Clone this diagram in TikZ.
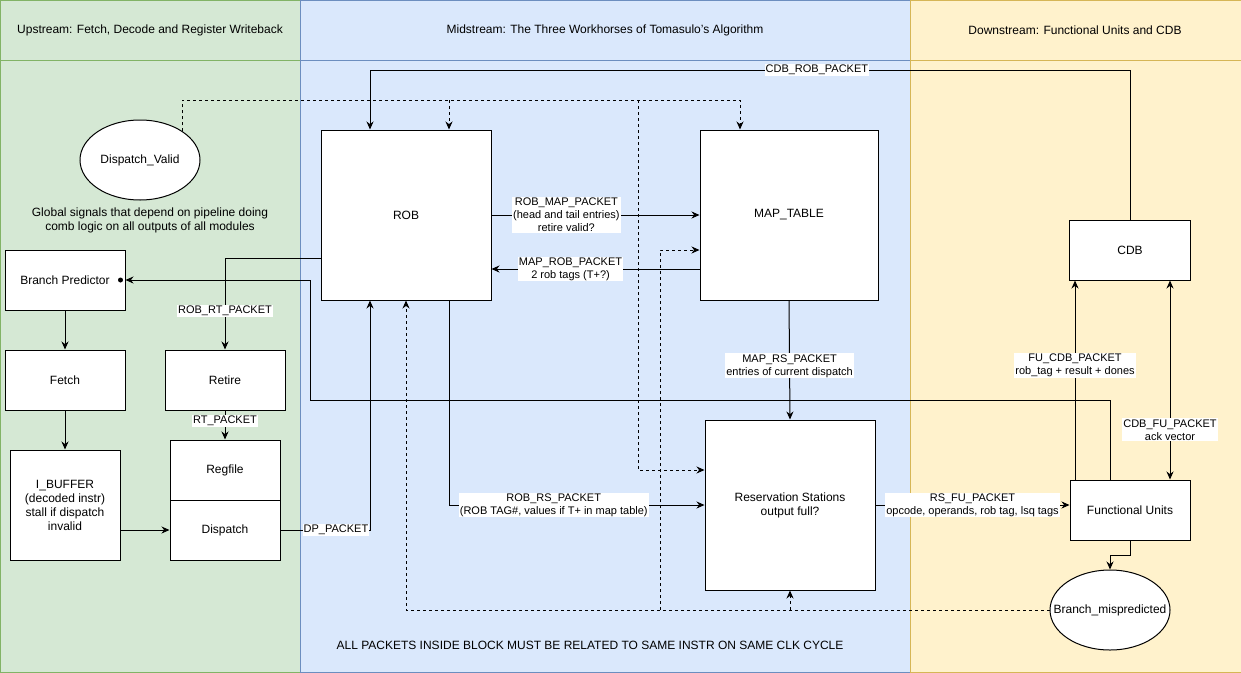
\documentclass[tikz,border=0pt]{standalone}
\usepackage{fontspec}
\setmainfont{Liberation Sans}
\usetikzlibrary{arrows.meta,shapes.geometric}
\definecolor{upfill}{HTML}{D5E8D4}
\definecolor{upline}{HTML}{82B366}
\definecolor{midfill}{HTML}{DAE8FC}
\definecolor{midline}{HTML}{6C8EBF}
\definecolor{downfill}{HTML}{FFF2CC}
\definecolor{downline}{HTML}{D6B656}
\begin{document}
\begin{tikzpicture}[x=1pt,y=-1pt,line width=1pt,>={Stealth[length=8pt,width=7pt]},
		font=\fontsize{12}{14}\selectfont,
		blk/.style={draw,fill=white,align=center,inner sep=2pt},
		oval/.style={draw,fill=white,ellipse,minimum width=120pt,minimum height=80pt,inner sep=0pt},
		lbl/.style={fill=white,align=center,inner sep=1pt,font=\fontsize{11}{13}\selectfont},
		dsh/.style={dashed,dash pattern=on 3pt off 3pt}]
		\useasboundingbox (0,0) rectangle (1241,672);
		% lanes
		\filldraw[fill=upfill,draw=upline] (0,0) rectangle (300,672);
		\draw[upline] (0,60) -- (300,60);
		\filldraw[fill=midfill,draw=midline] (300,0) rectangle (910,672);
		\draw[midline] (300,60) -- (910,60);
		\filldraw[fill=downfill,draw=downline] (910,0) rectangle (1241,672);
		\draw[downline] (910,60) -- (1241,60);
		\node (uphead) at (150,30) {Upstream: Fetch, Decode and Register Writeback};
		\node (midhead) at (605,30) {Midstream: The Three Workhorses of Tomasulo's Algorithm};
		\node (downhead) at (1075,30) {Downstream: Functional Units and CDB};
		% upstream
		\node[oval] (dv) at (140,160) {Dispatch\_Valid};
		\node[align=center] (glob) at (150,220) {Global signals that depend on pipeline doing\\comb logic on all outputs of all modules};
		\node[blk,minimum width=120,minimum height=60] (bp) at (65,280) {Branch Predictor};
		\node[blk,minimum width=120,minimum height=60] (fetch) at (65,380) {Fetch};
		\node[blk,minimum width=110,minimum height=110] (ibuf) at (65,505) {I\_BUFFER\\(decoded instr)\\stall if dispatch\\invalid};
		\node[blk,minimum width=120,minimum height=60] (retire) at (225,380) {Retire};
		\node[blk,minimum width=110,minimum height=60] (regfile) at (225,470) {Regfile};
		\node[blk,minimum width=110,minimum height=60] (dispatch) at (225,530) {Dispatch};
		% midstream
		\node[blk,minimum width=170,minimum height=170] (rob) at (406,215) {ROB};
		\node[blk,minimum width=178,minimum height=170] (map) at (789,215) {MAP\_TABLE};
		\node[blk,minimum width=170,minimum height=170] (rs) at (790,505) {Reservation Stations\\output full?};
		\node (note) at (590,645) {ALL PACKETS INSIDE BLOCK MUST BE RELATED TO SAME INSTR ON SAME CLK CYCLE};
		% downstream
		\node[blk,minimum width=121,minimum height=60] (cdb) at (1130,250) {CDB};
		\node[blk,minimum width=120,minimum height=60] (fu) at (1130,510) {Functional Units};
		\node[oval,inner xsep=-30pt] (bm) at (1110,610) {Branch\_mispredicted};
		% upstream connectors
		\draw[->] (bp) -- (fetch);
		\draw[->] (fetch) -- (ibuf);
		\draw[->] (ibuf.east |- dispatch.west) -- (dispatch.west);
		\draw[->] (retire) -- node[lbl,pos=0.35] {RT\_PACKET} (regfile);
		\draw[->] ([yshift=-43pt]rob.west) -| node[lbl,pos=0.79] {ROB\_RT\_PACKET} (retire.north);
		\draw[->] (dispatch.east) -| node[lbl,pos=0.31] {DP\_PACKET} ([xshift=-36pt]rob.south);
		\draw[->] ([xshift=-20pt]fu.north) |- (310,400) |- (bp.east);
		\fill ([xshift=-5pt]bp.east) circle (2.5pt);
		% midstream connectors
		\draw[->] (rob.east) -- node[lbl,pos=0.36] {ROB\_MAP\_PACKET\\(head and tail entries)\\retire valid?} (map.west);
		\draw[->] ([yshift=-54pt]map.west) -- node[lbl,pos=0.62] {MAP\_ROB\_PACKET\\2 rob tags (T+?)} ([yshift=-54pt]rob.east);
		\draw[->] (map.south) -- node[lbl,pos=0.55] {MAP\_RS\_PACKET\\entries of current dispatch} (rs.north);
		\draw[->] ([xshift=43pt]rob.south) |- node[lbl,pos=0.705] {ROB\_RS\_PACKET\\(ROB TAG\#, values if T+ in map table)} (rs.west);
		\draw[->] (rs.east) -- node[lbl,pos=0.5] {RS\_FU\_PACKET\\opcode, operands, rob tag, lsq tags} (rs.east -| fu.west);
		% downstream connectors
		\draw[->] (cdb.north) |- node[lbl,pos=0.706] {CDB\_ROB\_PACKET} (370,70) -- ([xshift=-36pt]rob.north);
		\draw[->] ([xshift=-55pt]fu.north) -- node[lbl,pos=0.575] {FU\_CDB\_PACKET\\rob\_tag + result + dones} ([xshift=-55pt]cdb.south);
		\draw[<->] ([xshift=40pt]cdb.south) -- node[lbl,pos=0.75] {CDB\_FU\_PACKET\\ack vector} ([xshift=40pt]fu.north);
		\draw[->] (fu.south) -- ++(0,15) -| (bm.north);
		% global signals (dashed)
		\draw[dsh,->] (dv.north east) |- (740,100) -- ([xshift=-49pt]map.north);
		\draw[dsh,->] (449,100) -- ([xshift=43pt]rob.north);
		\draw[dsh,->] (638,100) |- ([yshift=35pt]rs.west);
		\draw[dsh,->] (bm.west) -| (rob.south);
		\draw[dsh,->] (790,610) -- (rs.south);
		\draw[dsh,->] (660,610) |- ([yshift=-35pt]map.west);
	\end{tikzpicture}
\end{document}
